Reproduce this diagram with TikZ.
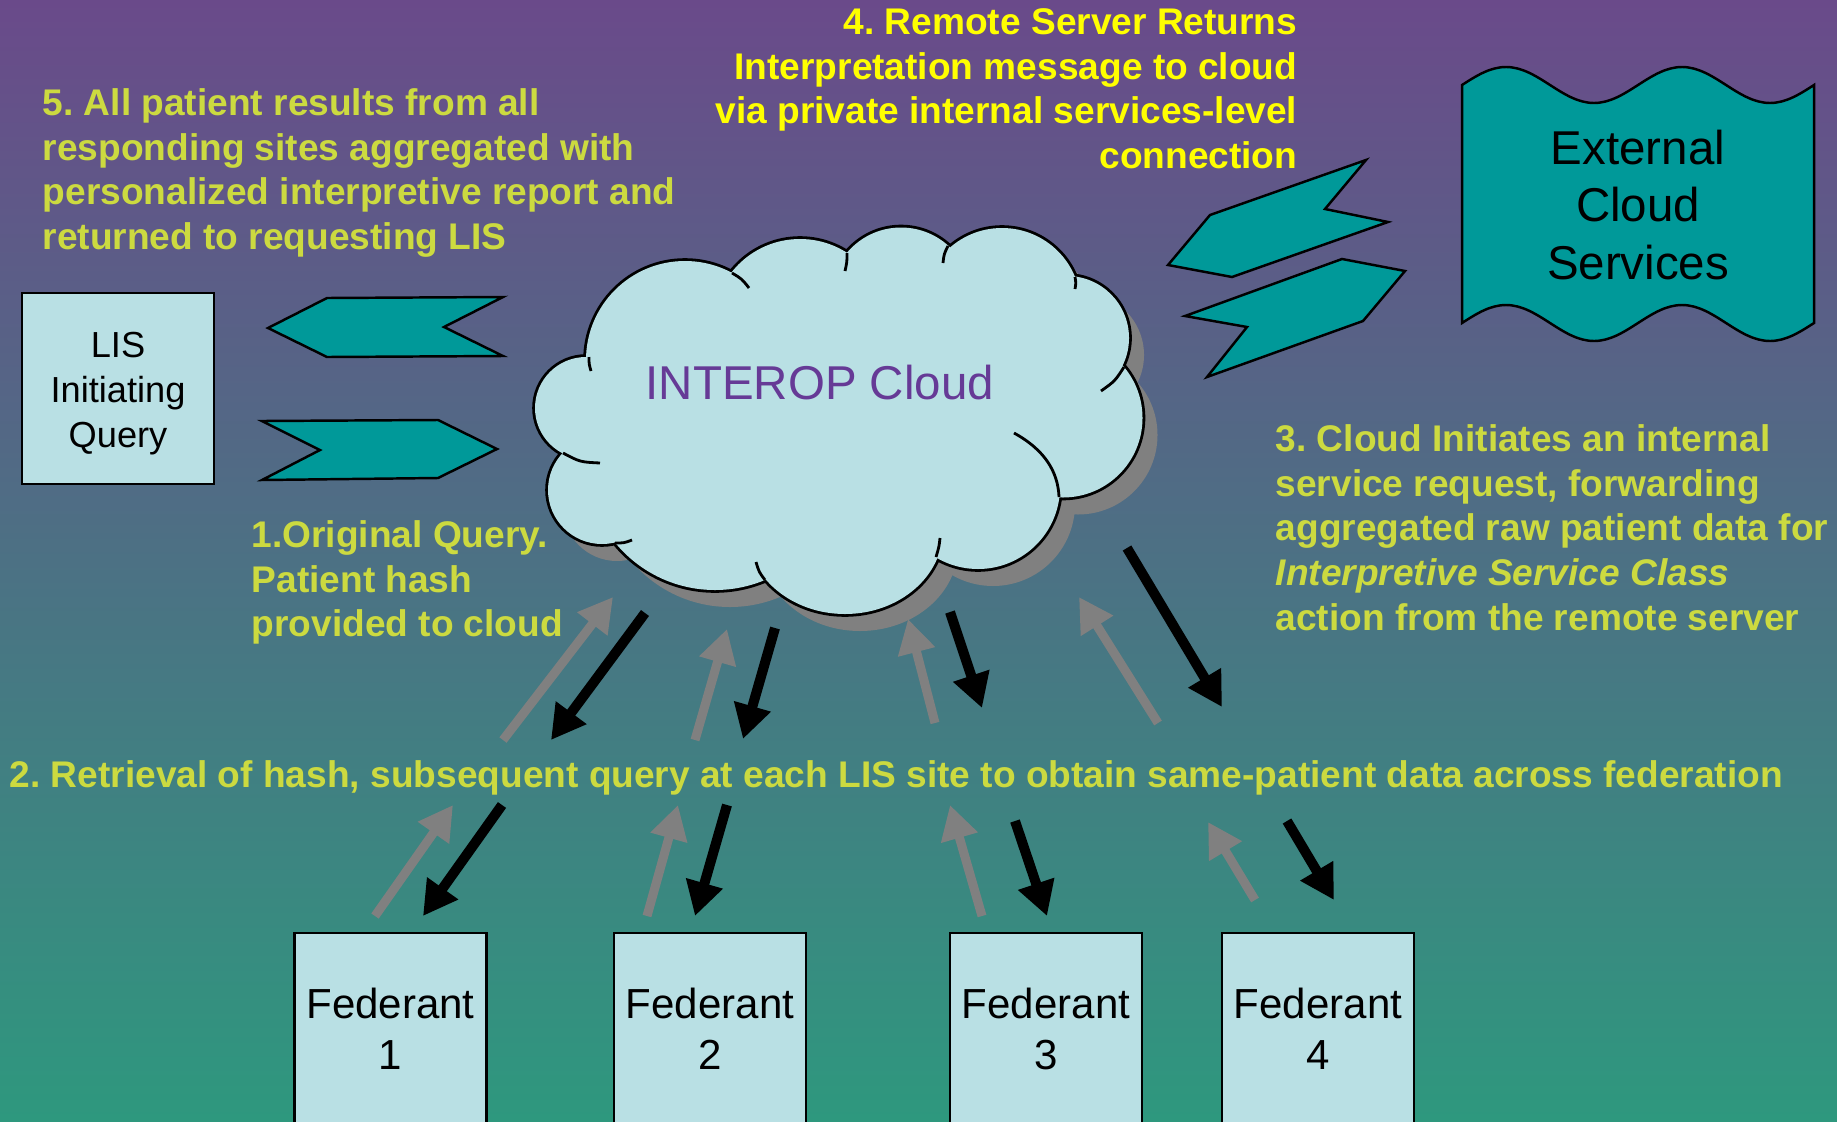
\documentclass[tikz,border=0pt]{standalone}
\usepackage{fontspec}
\setmainfont{Liberation Sans}
\usetikzlibrary{arrows.meta}
\frenchspacing

\definecolor{bgtop}{RGB}{106,74,138}
\definecolor{bgbottom}{RGB}{46,152,126}
\definecolor{notegreen}{RGB}{204,218,64}
\definecolor{noteyellow}{RGB}{255,255,0}
\definecolor{paleblue}{RGB}{185,224,228}
\definecolor{tealfill}{RGB}{0,153,153}
\definecolor{cloudtext}{RGB}{102,58,150}
\definecolor{shadowgray}{RGB}{128,128,128}

% puffs of the cloud, drawn thick then filled so only the rim stays
\newcommand\cloudpuffs{(685,360) circle[radius=99] (800,326) circle[radius=87]
  (901,298) circle[radius=70.5] (1002,307) circle[radius=79] (1067,338) circle[radius=62]
  (1063,418) circle[radius=79.5] (978,487) circle[radius=82] (845,530) ellipse[x radius=98,y radius=84]
  (715,461) circle[radius=129] (602,490) circle[radius=54] (586,408) circle[radius=51]}
\newcommand\cloudcore{(840,420) ellipse[x radius=230,y radius=150]}

\begin{document}
\begin{tikzpicture}[x=0.01cm,y=-0.01cm,>={Triangle[length=0.34cm,width=0.36cm]},
  note/.style={font=\fontsize{10.55pt}{12.7pt}\selectfont\bfseries,text=notegreen,align=left,inner sep=0pt},
  box/.style={draw,line width=0.7pt,fill=paleblue,align=center,inner sep=0pt},
  lis node/.style={box,minimum width=1.92cm,minimum height=1.91cm,font=\fontsize{10.3pt}{12.8pt}\selectfont},
  fed node/.style={box,minimum width=1.92cm,minimum height=1.92cm,font=\fontsize{11.95pt}{14.5pt}\selectfont},
  tealshape/.style={draw,line width=0.7pt,fill=tealfill},
  up flow/.style={->,draw=shadowgray,line width=0.09cm},
  down flow/.style={->,draw=black,line width=0.1cm}]

  \useasboundingbox (0,0) rectangle (1837,1121);
  \shade[top color=bgtop,bottom color=bgbottom] (0,0) rectangle (1837,1121);
  \clip (0,0) rectangle (1837,1121);

  % cloud
  \fill[shadowgray,shift={(15,17)}] \cloudpuffs \cloudcore;
  \draw[line width=1.6pt] \cloudpuffs;
  \fill[paleblue] \cloudpuffs \cloudcore;
  \draw[line width=0.8pt] (732,273) .. controls (742,279) .. (749,288)
    (847,253) .. controls (847,262) .. (845,271)
    (948,246) .. controls (944,254) .. (943,263)
    (1075,277) .. controls (1076,283) .. (1075,289)
    (1124,367) .. controls (1115,381) .. (1101,391)
    (1014,433) .. controls (1045,450) and (1058,472) .. (1059,497)
    (936,557) .. controls (939,547) .. (940,538)
    (765,580) .. controls (759,572) .. (756,562)
    (615,543) .. controls (624,543) .. (632,540)
    (563,453) .. controls (580,462) .. (600,463)
    (589,357) .. controls (589,364) .. (591,371);
  \node[anchor=base west,inner sep=0pt,text=cloudtext,font=\fontsize{13.5pt}{16pt}\selectfont] (interop) at (645,399) {INTEROP Cloud};

  % LIS and its two flows
  \node[lis node] (lis) at (118,388.5) {\rule{0pt}{0.35cm}LIS\\Initiating\\Query};
  \filldraw[tealshape] (268,328) -- (327,298) -- (503,297) -- (444,327) -- (503,356) -- (327,357) -- cycle;
  \filldraw[tealshape] (262,421) -- (438,420) -- (497,449) -- (438,478) -- (262,480) -- (320,450) -- cycle;

  % external services
  \filldraw[tealshape] (1210,215) -- (1366,160) -- (1325,209) -- (1388,222) -- (1232,277) -- (1168,265) -- cycle;
  \filldraw[tealshape] (1342,259) -- (1405,271) -- (1363,321) -- (1207,377) -- (1247,327) -- (1185,316) -- cycle;
  \filldraw[tealshape] (1462,85) sin (1506,67) cos (1550,85) sin (1594,103) cos (1638,85)
    sin (1682,67) cos (1726,85) sin (1770,103) cos (1814,85) -- (1814,323)
    sin (1770,341) cos (1726,323) sin (1682,305) cos (1638,323)
    sin (1594,341) cos (1550,323) sin (1506,305) cos (1462,323) -- cycle;
  \node[align=center,inner sep=0pt,font=\fontsize{13.5pt}{16.36pt}\selectfont] (ext) at (1638,205) {External\\Cloud\\Services};

  % federants
  \node[fed node] (fed1) at (390.5,1029) {Federant\\1};
  \node[fed node] (fed2) at (710,1029) {Federant\\2};
  \node[fed node] (fed3) at (1046,1029) {Federant\\3};
  \node[fed node] (fed4) at (1318,1029) {Federant\\4};

  % ends of the flows
  \coordinate (u1) at (503,740);  \coordinate (u1h) at (613,597);
  \coordinate (d1) at (645,613);  \coordinate (d1h) at (551,740);
  \coordinate (u2) at (695,740);  \coordinate (u2h) at (727,629);
  \coordinate (d2) at (775,628);  \coordinate (d2h) at (743,739);
  \coordinate (u3) at (935,723);  \coordinate (u3h) at (908,619);
  \coordinate (d3) at (950,612);  \coordinate (d3h) at (982,708);
  \coordinate (u4) at (1158,723); \coordinate (u4h) at (1079,597);
  \coordinate (d4) at (1127,548); \coordinate (d4h) at (1222,707);
  \coordinate (u5) at (375,916);  \coordinate (u5h) at (453,805);
  \coordinate (d5) at (502,805);  \coordinate (d5h) at (423,916);
  \coordinate (u6) at (647,916);  \coordinate (u6h) at (678,805);
  \coordinate (d6) at (727,805);  \coordinate (d6h) at (695,916);
  \coordinate (u7) at (982,916);  \coordinate (u7h) at (950,805);
  \coordinate (d7) at (1015,821); \coordinate (d7h) at (1047,916);
  \coordinate (u8) at (1255,900); \coordinate (u8h) at (1208,822);
  \coordinate (d8) at (1287,821); \coordinate (d8h) at (1334,900);

  \draw[up flow] (u1) -- (u1h);
  \draw[down flow] (d1) -- (d1h);
  \draw[up flow] (u2) -- (u2h);
  \draw[down flow] (d2) -- (d2h);
  \draw[up flow] (u3) -- (u3h);
  \draw[down flow] (d3) -- (d3h);
  \draw[up flow] (u4) -- (u4h);
  \draw[down flow] (d4) -- (d4h);
  \draw[up flow] (u5) -- (u5h);
  \draw[down flow] (d5) -- (d5h);
  \draw[up flow] (u6) -- (u6h);
  \draw[down flow] (d6) -- (d6h);
  \draw[up flow] (u7) -- (u7h);
  \draw[down flow] (d7) -- (d7h);
  \draw[up flow] (u8) -- (u8h);
  \draw[down flow] (d8) -- (d8h);

  % steps
  \node[note,anchor=north west] (step5) at (42,88) {5. All patient results from all\\responding sites aggregated with\\personalized interpretive report and\\returned to requesting LIS};
  \node[note,anchor=north east,align=right,text=noteyellow] (step4) at (1298,8) {4. Remote Server Returns\\Interpretation message to cloud\\via private internal services-level\\connection};
  \node[note,anchor=north west] (step1) at (251,520) {1.Original Query.\\Patient hash\\provided to cloud};
  \node[note,anchor=north west] (step2) at (9,760) {2. Retrieval of hash, subsequent query at each LIS site to obtain same-patient data across federation};
  \node[note,anchor=north west] (step3) at (1275,424) {3. Cloud Initiates an internal\\service request, forwarding\\aggregated raw patient data for\\\textit{Interpretive Service Class}\\action from the remote server};
\end{tikzpicture}
\end{document}
